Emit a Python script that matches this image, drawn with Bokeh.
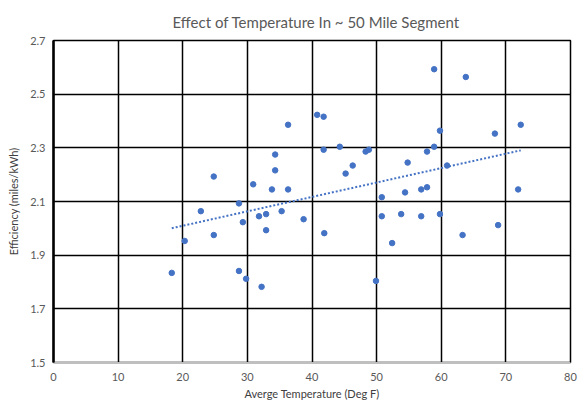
import numpy as np
from bokeh.plotting import figure
from bokeh.models import Title, FixedTicker, Range1d, ColumnDataSource, NumeralTickFormatter
from bokeh.embed import file_html
from bokeh.resources import INLINE

title_text = "Effect of Temperature In ~ 50 Mile Segment"
x_label = "Averge Temperature (Deg F)"
y_label = "Efficiency (miles/kWh)"

temperature = [18.3, 20.3, 22.8, 24.8, 24.8, 28.7, 28.7, 29.3, 29.8, 30.9,
               31.8, 32.2, 32.9, 32.9, 33.8, 34.3, 34.3, 35.3, 36.3, 36.3,
               38.7, 40.8, 41.8, 41.8, 41.9, 44.3, 45.2, 46.3, 48.3, 48.8,
               49.9, 50.8, 50.8, 52.4, 53.8, 54.4, 54.8, 56.9, 56.9, 57.8,
               57.8, 58.9, 58.9, 59.8, 59.8, 60.9, 63.3, 63.8, 68.3, 68.8,
               71.9, 72.3]
efficiency = [1.834, 1.953, 2.064, 1.975, 2.193, 2.093, 1.841, 2.023, 1.812, 2.164,
              2.045, 1.782, 2.053, 1.993, 2.145, 2.275, 2.216, 2.064, 2.145, 2.386,
              2.034, 2.423, 2.416, 2.293, 1.982, 2.304, 2.204, 2.234, 2.286, 2.293,
              1.804, 2.116, 2.045, 1.945, 2.053, 2.134, 2.245, 2.045, 2.145, 2.153,
              2.286, 2.304, 2.593, 2.364, 2.053, 2.234, 1.975, 2.564, 2.353, 2.012,
              2.145, 2.386]
x_ticks = [0, 10, 20, 30, 40, 50, 60, 70, 80]
y_ticks = [1.5, 1.7, 1.9, 2.1, 2.3, 2.5, 2.7]

FONT = "Lato"
GRAY = "#595959"
BLUE = "#4472C4"

W, H = 587, 412
LEFT, RIGHT, TOP, BOTTOM = 53, 17, 38, 50

p = figure(width=W, height=H, output_backend="svg", toolbar_location=None,
           x_range=Range1d(0, 80), y_range=Range1d(1.5, 2.7),
           min_border_left=LEFT, min_border_right=RIGHT,
           min_border_top=TOP, min_border_bottom=BOTTOM)
p.title = Title(text=title_text, align="left", offset=119, standoff=20,
                text_font=FONT, text_font_size="15px", text_color=GRAY,
                text_font_style="normal")

# trend line (least squares)
slope, intercept = np.polyfit(temperature, efficiency, 1)
tx = [min(temperature), max(temperature)]
ty = [slope * t + intercept for t in tx]
p.line(tx, ty, line_color=BLUE, line_width=2, line_dash="2 2")

src = ColumnDataSource(dict(x=temperature, y=efficiency))
p.scatter("x", "y", source=src, size=5.5, fill_color=BLUE, line_color=BLUE)

p.xaxis.ticker = FixedTicker(ticks=x_ticks)
p.yaxis.ticker = FixedTicker(ticks=y_ticks)
p.yaxis.formatter = NumeralTickFormatter(format="0.0")
for ax in (p.xaxis[0], p.yaxis[0]):
    ax.major_label_text_font = FONT
    ax.major_label_text_font_size = "11px"
    ax.major_label_text_color = GRAY
    ax.axis_label_text_font = FONT
    ax.axis_label_text_font_size = "11px"
    ax.axis_label_text_color = "#404040"
    ax.axis_label_text_font_style = "normal"
    ax.major_tick_line_color = None
    ax.minor_tick_line_color = None
    ax.major_tick_out = 0
    ax.major_tick_in = 0
p.xaxis.axis_label = x_label
p.yaxis.axis_label = y_label
p.xaxis.axis_line_color = "#bfbfbf"
p.yaxis.axis_line_color = "black"
p.yaxis.axis_line_width = 2.5
p.xaxis.major_label_standoff = 10
p.yaxis.major_label_standoff = 8
p.xaxis.axis_label_standoff = 3
p.yaxis.axis_label_standoff = 7

p.xgrid.ticker = FixedTicker(ticks=x_ticks)
p.ygrid.ticker = FixedTicker(ticks=y_ticks)
for g in (p.xgrid[0], p.ygrid[0]):
    g.grid_line_color = "black"
    g.grid_line_width = 1.5
p.outline_line_color = "black"
p.outline_line_width = 1.5

open("out.html", "w").write(file_html(p, INLINE))
